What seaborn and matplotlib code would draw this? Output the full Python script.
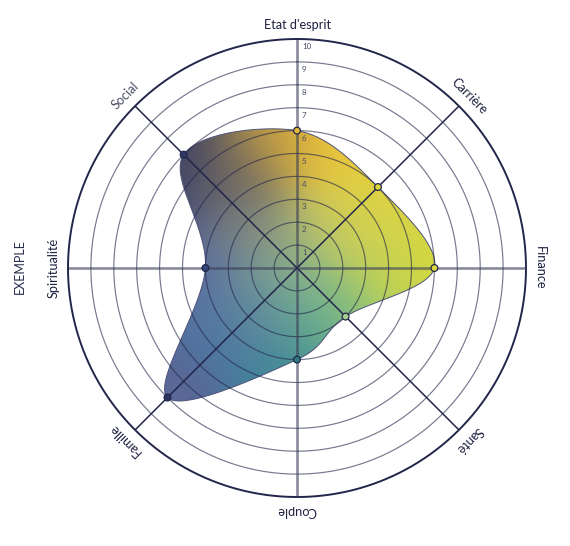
import numpy as np
import pandas as pd
import seaborn as sns
import matplotlib.pyplot as plt
from matplotlib.patches import Polygon
from matplotlib.colors import to_rgb

# Data (score out of 10 per life area)
categories = ["Etat d'esprit", "Carrière", "Finance", "Santé",
              "Couple", "Famille", "Spiritualité", "Social"]
scores = [6, 5, 6, 3, 4, 8, 4, 7]
ring_levels = list(range(1, 11))
tick_labels = [str(v) for v in ring_levels]

# style
PX = 22.9          # pixels per score unit
CX, CY = 297, 268  # centre of the wheel in pixels
navy = "#22264a"
marker_cols = ["#e2b83a", "#dcd63c", "#dcd83a", "#a6d08e",
               "#2f7a80", "#2a3462", "#34457a", "#2f3a68"]

sns.set_theme(style="white")
plt.rcParams["font.family"] = ["Lato", "DejaVu Sans"]

n = len(categories)
angles = np.arange(n) * 2 * np.pi / n      # clockwise from top
df = pd.DataFrame({"categorie": categories, "score": scores})
df["x"] = df["score"] * np.sin(angles)
df["y"] = df["score"] * np.cos(angles)


def catmull_rom_closed(px, py, steps=60):
    pts = np.column_stack([px, py])
    m = len(pts)
    t = np.linspace(0, 1, steps, endpoint=False)[:, None]
    segs = []
    for i in range(m):
        p0, p1, p2, p3 = pts[(i - 1) % m], pts[i], pts[(i + 1) % m], pts[(i + 2) % m]
        segs.append(0.5 * (2 * p1 + (-p0 + p2) * t
                           + (2 * p0 - 5 * p1 + 4 * p2 - p3) * t ** 2
                           + (-p0 + 3 * p1 - 3 * p2 + p3) * t ** 3))
    out = np.vstack(segs)
    return np.vstack([out, out[:1]])


# colour anchors for the 2D gradient (x, y in score units)
anchors = [
    ((-5.5, 6.0), "#363a62"), ((-6.5, 2.5), "#3c436e"), ((-3.2, 4.2), "#575666"),
    ((-1.6, 5.6), "#ae904a"), ((0.0, 6.5), "#e8b63a"), ((1.8, 5.0), "#ecc63a"),
    ((3.8, 3.5), "#e2d63a"), ((6.5, 0.0), "#d8da36"), ((4.2, -0.8), "#c4d650"),
    ((2.2, -2.2), "#84c482"), ((0.0, -4.5), "#368896"), ((-2.5, -2.5), "#4a70a2"),
    ((-4.2, 0.0), "#5a6ba2"), ((-6.0, -6.0), "#5a6896"), ((0.0, 0.0), "#98bc88"),
    ((1.8, 1.8), "#cccc62"), ((-1.8, 1.6), "#85887a"), ((3.5, 1.0), "#d2d24c"),
    ((-1.5, -1.5), "#6c98a0"), ((0.8, -2.0), "#5ea890"),
]
axy = np.array([a[0] for a in anchors])
acol = np.array([to_rgb(a[1]) for a in anchors])

gx = np.linspace(-9, 9, 360)
gy = np.linspace(-9, 9, 360)
GX, GY = np.meshgrid(gx, gy)
d2 = (GX[..., None] - axy[:, 0]) ** 2 + (GY[..., None] - axy[:, 1]) ** 2
w = np.exp(-d2 / (2 * 1.5 ** 2)) + 1e-12
img = (w[..., None] * acol).sum(axis=2) / w.sum(axis=2)[..., None]

fig = plt.figure(figsize=(5.70, 5.46), dpi=100)
ax = fig.add_axes([0, 0, 1, 1])
ax.set_xlim(-CX / PX, (570 - CX) / PX)
ax.set_ylim(-(546 - CY) / PX, CY / PX)
ax.axis("off")

# filled smooth shape with gradient
curve = catmull_rom_closed(df["x"].values, df["y"].values)
shape = Polygon(curve, closed=True, facecolor="none", edgecolor="none")
ax.add_patch(shape)
im = ax.imshow(img, extent=(-9, 9, -9, 9), origin="lower", zorder=1,
               interpolation="bilinear")
im.set_clip_path(shape)
ax.plot(curve[:, 0], curve[:, 1], color="#4e5278", lw=0.7, zorder=2)

# rings
th = np.linspace(0, 2 * np.pi, 400)
for k in ring_levels:
    if k == ring_levels[-1]:
        ax.plot(k * np.sin(th), k * np.cos(th), color=navy, lw=1.4, zorder=3)
    else:
        ax.plot(k * np.sin(th), k * np.cos(th), color=navy, alpha=0.62,
                lw=0.85, zorder=3)

# spokes
R = ring_levels[-1]
for i, a in enumerate(angles):
    if i % 2 == 0:
        ax.plot([0, R * np.sin(a)], [0, R * np.cos(a)], color="#3a3d58",
                alpha=0.6, lw=1.9, zorder=3, solid_capstyle="butt")
    else:
        ax.plot([0, R * np.sin(a)], [0, R * np.cos(a)], color=navy, lw=1.1,
                zorder=3, solid_capstyle="butt")

# markers
sns.scatterplot(data=df, x="x", y="y", hue="categorie",
                palette=dict(zip(categories, marker_cols)), s=24,
                edgecolor=navy, linewidth=0.9, legend=False, zorder=5, ax=ax)
ax.set_xlabel("")
ax.set_ylabel("")

# scale labels along the top spoke
for k, lab in zip(ring_levels, tick_labels):
    ax.text(0.22, k - 0.18, lab, fontsize=5.8, color="#4a4d64",
            ha="left", va="top", zorder=6)

# category labels, tangential
for i, (name, a) in enumerate(zip(categories, angles)):
    r = 10.62
    col = "#4a4d66" if name == "Social" else "#1e2140"
    ax.text(r * np.sin(a), r * np.cos(a), name, rotation=-np.degrees(a),
            rotation_mode="anchor", ha="center", va="center",
            fontsize=9.2, color=col, zorder=6)

ax.text(-12.1, 0.05, "EXEMPLE", rotation=90, ha="center", va="center",
        fontsize=9, color="#2a2d50")

fig.savefig("out.png", dpi=100)
